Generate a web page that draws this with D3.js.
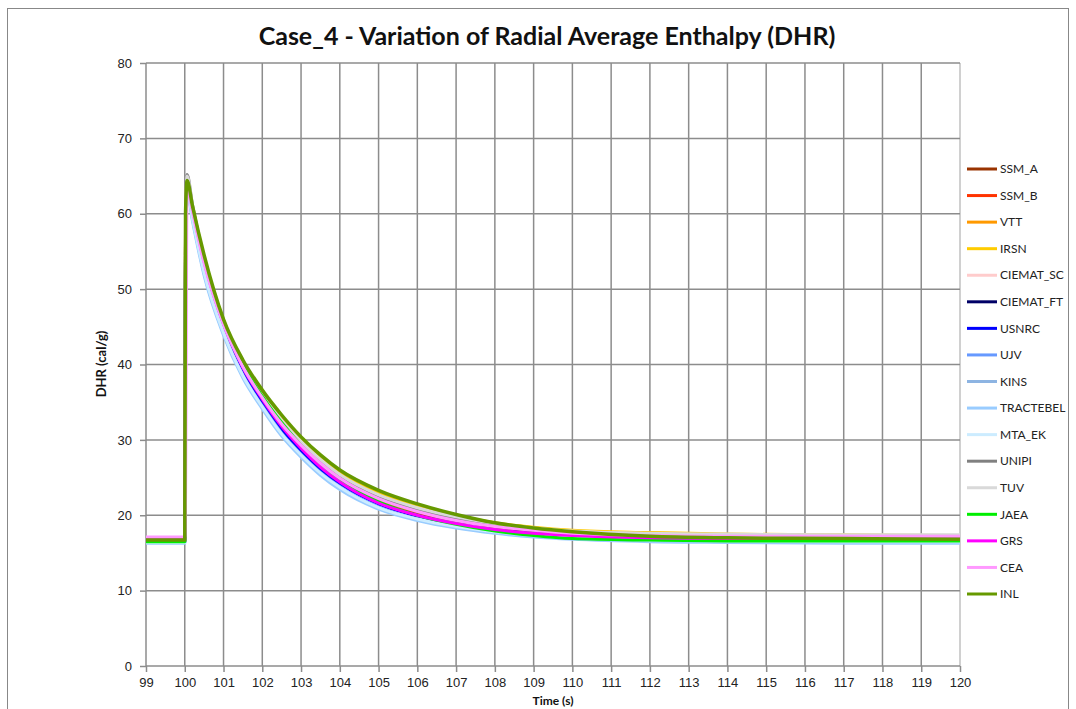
<!DOCTYPE html>
<html>
<head>
<meta charset="utf-8">
<script src="https://cdn.jsdelivr.net/npm/d3@7"></script>
<style>
  body { margin: 0; background: #fff; }
  svg { display: block; font-family: Lato, "Open Sans", sans-serif; }
</style>
</head>
<body>
<svg id="chart" width="1076" height="709"></svg>
<script>
// Case_4 DHR chart: 17 code results, step at t=100 s then decay

const times = [99, 100, 100.02, 100.06, 100.2, 100.5, 101, 101.5, 102, 102.5, 103, 103.5, 104, 105, 106, 107, 108, 109, 110, 112, 114, 117, 120];

const seriesNames = ["SSM_A", "SSM_B", "VTT", "IRSN", "CIEMAT_SC", "CIEMAT_FT", "USNRC", "UJV", "KINS", "TRACTEBEL", "MTA_EK", "UNIPI", "TUV", "JAEA", "GRS", "CEA", "INL"];

const seriesColors = ["#993300", "#FF3300", "#FF9900", "#FFCC00", "#FFCCCC", "#000066", "#0000FF", "#6699FF", "#8DB4E2", "#99CCFF", "#CCECFF", "#808080", "#D9D9D9", "#00EE00", "#FF00FF", "#FF99FF", "#669900"];

const ssmA      = [16.6, 16.6, 58, 64.0, 60.5, 53.5, 45.3, 39.6, 35.5, 32.0, 29.2, 26.8, 24.9, 22.2, 20.5, 19.3, 18.4, 17.9, 17.5, 17.1, 16.9, 16.8, 16.8];
const ssmB      = [16.6, 16.6, 58, 63.8, 60.3, 53.3, 45.1, 39.4, 35.3, 31.8, 29.0, 26.6, 24.7, 22.0, 20.3, 19.2, 18.3, 17.8, 17.4, 17.0, 16.9, 16.8, 16.8];
const vtt       = [16.6, 16.6, 59, 64.2, 60.8, 54.0, 45.8, 40.2, 36.1, 32.7, 29.9, 27.5, 25.5, 22.8, 21.0, 19.8, 18.9, 18.3, 17.9, 17.6, 17.4, 17.3, 17.2];
const irsn      = [16.7, 16.7, 59, 64.3, 60.9, 54.2, 45.9, 40.3, 36.3, 32.9, 30.1, 27.7, 25.7, 23.0, 21.3, 20.0, 19.0, 18.4, 18.0, 17.7, 17.5, 17.4, 17.3];
const ciematSc  = [16.8, 16.8, 58, 64.0, 60.6, 53.8, 45.6, 40.0, 35.9, 32.5, 29.7, 27.3, 25.3, 22.6, 20.9, 19.7, 18.8, 18.2, 17.8, 17.5, 17.4, 17.3, 17.3];
const ciematFt  = [16.5, 16.5, 57, 63.5, 60.0, 53.0, 44.8, 39.1, 35.0, 31.4, 28.6, 26.2, 24.3, 21.6, 20.0, 18.9, 18.1, 17.6, 17.2, 16.9, 16.7, 16.6, 16.6];
const usnrc     = [16.5, 16.5, 57, 63.6, 60.0, 52.9, 44.7, 39.0, 34.9, 31.3, 28.5, 26.1, 24.2, 21.5, 19.9, 18.8, 18.0, 17.5, 17.2, 16.9, 16.7, 16.6, 16.6];
const ujv       = [16.4, 16.4, 56, 63.2, 59.5, 52.3, 44.3, 38.6, 34.5, 30.9, 28.1, 25.7, 23.8, 21.1, 19.5, 18.5, 17.8, 17.3, 17.0, 16.7, 16.5, 16.5, 16.4];
const kins      = [16.4, 16.4, 56, 63.0, 59.3, 52.1, 44.1, 38.4, 34.3, 30.7, 27.9, 25.5, 23.6, 20.9, 19.4, 18.4, 17.7, 17.2, 16.9, 16.6, 16.5, 16.4, 16.4];
const tractebel = [16.3, 16.3, 55, 62.8, 59.0, 51.8, 43.9, 38.2, 34.1, 30.5, 27.7, 25.3, 23.4, 20.8, 19.3, 18.3, 17.6, 17.1, 16.8, 16.5, 16.4, 16.3, 16.3];
const mtaEk     = [16.4, 16.4, 56, 63.0, 59.3, 52.2, 44.2, 38.5, 34.4, 30.8, 28.0, 25.6, 23.7, 21.0, 19.5, 18.5, 17.8, 17.3, 17.0, 16.7, 16.6, 16.5, 16.5];
const unipi     = [16.6, 16.6, 60, 65.2, 61.2, 54.0, 45.6, 39.9, 35.8, 32.3, 29.5, 27.1, 25.1, 22.4, 20.7, 19.5, 18.6, 18.0, 17.6, 17.2, 17.0, 16.9, 16.9];
const tuv       = [16.7, 16.7, 60, 65.0, 61.0, 53.9, 45.7, 40.1, 36.0, 32.6, 29.8, 27.4, 25.4, 22.7, 21.0, 19.8, 18.9, 18.3, 17.9, 17.6, 17.5, 17.4, 17.4];
const jaea      = [16.5, 16.5, 58, 63.8, 60.6, 54.0, 45.7, 40.0, 35.8, 32.3, 29.3, 26.8, 24.7, 21.8, 20.0, 18.8, 17.9, 17.3, 16.9, 16.7, 16.6, 16.6, 16.6];
const grs       = [16.9, 16.9, 56, 64.2, 60.6, 53.6, 45.4, 39.6, 35.4, 31.8, 28.9, 26.4, 24.4, 21.6, 20.0, 18.9, 18.1, 17.6, 17.3, 17.0, 16.9, 16.9, 16.9];
const cea       = [17.1, 17.1, 22, 63.5, 60.2, 53.4, 45.3, 39.7, 35.6, 32.1, 29.3, 26.9, 24.9, 22.2, 20.5, 19.3, 18.5, 18.0, 17.6, 17.3, 17.2, 17.2, 17.2];
const inl       = [16.7, 16.7, 60, 64.4, 61.0, 54.5, 46.0, 40.6, 36.6, 33.3, 30.4, 28.0, 26.0, 23.3, 21.5, 20.1, 19.0, 18.3, 17.8, 17.2, 17.0, 16.9, 16.8];

const seriesValues = [ssmA, ssmB, vtt, irsn, ciematSc, ciematFt, usnrc, ujv, kins, tractebel, mtaEk, unipi, tuv, jaea, grs, cea, inl];

const xTicks = d3.range(99, 121, 1);
const yTicks = [0, 10, 20, 30, 40, 50, 60, 70, 80];

const svg = d3.select("#chart");
const margin = { left: 146, right: 960, top: 63, bottom: 666 };

const x = d3.scaleLinear().domain([99, 120]).range([margin.left, margin.right]);
const y = d3.scaleLinear().domain([0, 80]).range([margin.bottom, margin.top]);

// Outer chart border
svg.append("rect")
  .attr("x", 7.5).attr("y", 8.5)
  .attr("width", 1061).attr("height", 720)
  .attr("fill", "none").attr("stroke", "#888").attr("stroke-width", 1);

// Gridlines
const gridG = svg.append("g");
gridG.selectAll("line.v")
  .data(xTicks)
  .join("line")
  .attr("class", "v")
  .attr("x1", (d) => x(d)).attr("x2", (d) => x(d))
  .attr("y1", y(80)).attr("y2", y(0))
  .attr("stroke", (d) => d === 120 ? "#c0c0c0" : "#8c8c8c")
  .attr("stroke-width", 1.5);
gridG.selectAll("line.h")
  .data(yTicks)
  .join("line")
  .attr("class", "h")
  .attr("x1", x(99)).attr("x2", x(120))
  .attr("y1", (d) => y(d)).attr("y2", (d) => y(d))
  .attr("stroke", "#8c8c8c")
  .attr("stroke-width", 1.5);

// Axes
const xAxis = d3.axisBottom(x).tickValues(xTicks).tickSize(6).tickPadding(6).tickFormat(d3.format("d"));
const yAxis = d3.axisLeft(y).tickValues(yTicks).tickSize(6).tickPadding(8);

const xAxisG = svg.append("g").attr("transform", "translate(0," + y(0) + ")").call(xAxis);
const yAxisG = svg.append("g").attr("transform", "translate(" + x(99) + ",0)").call(yAxis);

[xAxisG, yAxisG].forEach((g) => {
  g.select(".domain").remove();
  g.selectAll(".tick line").attr("stroke", "#8c8c8c").attr("stroke-width", 1.5);
  g.selectAll(".tick text").attr("fill", "#222").attr("font-size", "13px");
});

// Series lines
const line = d3.line()
  .x((d) => x(d[0]))
  .y((d) => y(d[1]))
  .curve(d3.curveMonotoneX);

const linesG = svg.append("g");
seriesNames.forEach((name, i) => {
  const pts = times.map((t, j) => [t, seriesValues[i][j]]);
  linesG.append("path")
    .attr("d", line(pts))
    .attr("fill", "none")
    .attr("stroke", seriesColors[i])
    .attr("stroke-width", name === "INL" ? 3.5 : 3)
    .attr("stroke-linejoin", "round");
});

// Legend
const legendG = svg.append("g");
const legendY = d3.scalePoint().domain(seriesNames).range([169, 594]);
seriesNames.forEach((name, i) => {
  const yy = legendY(name);
  legendG.append("line")
    .attr("x1", 967).attr("x2", 997)
    .attr("y1", yy).attr("y2", yy)
    .attr("stroke", seriesColors[i])
    .attr("stroke-width", 3);
  legendG.append("text")
    .attr("x", 1000).attr("y", yy)
    .attr("dy", "0.35em")
    .attr("font-size", "12px")
    .attr("fill", "#222")
    .text(name);
});

// Titles
svg.append("text")
  .attr("x", 547).attr("y", 45)
  .attr("text-anchor", "middle")
  .attr("font-size", "25px")
  .attr("font-weight", "bold")
  .attr("fill", "#111")
  .text("Case_4 - Variation of Radial Average Enthalpy (DHR)");

svg.append("text")
  .attr("x", 553).attr("y", 705)
  .attr("text-anchor", "middle")
  .attr("font-size", "12px")
  .attr("font-weight", "bold")
  .attr("fill", "#111")
  .text("Time (s)");

svg.append("text")
  .attr("transform", "translate(106,364) rotate(-90)")
  .attr("text-anchor", "middle")
  .attr("font-size", "13px")
  .attr("font-weight", "bold")
  .attr("fill", "#111")
  .text("DHR (cal/g)");
</script>
</body>
</html>
